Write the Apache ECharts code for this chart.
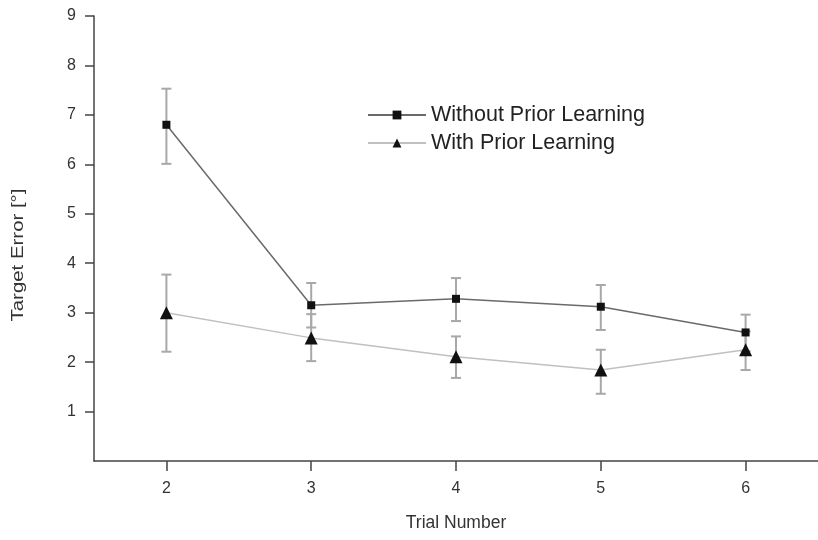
<!DOCTYPE html>
<html><head><meta charset="utf-8">
<script src="https://cdn.jsdelivr.net/npm/echarts@6/dist/echarts.min.js"></script>
<style>html,body{margin:0;padding:0;background:#fff}#c{width:818px;height:540px}</style>
</head><body><div id="c"></div>
<script>
const trials = ['2','3','4','5','6'];
const withoutMean = [6.80, 3.15, 3.28, 3.12, 2.60];
const withoutLow  = [6.01, 2.70, 2.83, 2.65, 2.22];
const withoutHigh = [7.53, 3.60, 3.70, 3.56, 2.96];
const withMean = [3.00, 2.49, 2.11, 1.84, 2.25];
const withLow  = [2.21, 2.02, 1.68, 1.36, 1.84];
const withHigh = [3.77, 2.97, 2.52, 2.25, 2.62];
const yTicks = [1,2,3,4,5,6,7,8,9];

function errData(lo, hi){ return trials.map((t,i)=>[i, lo[i], hi[i]]); }
function errRender(params, api){
  const x = api.value(0);
  const p1 = api.coord([x, api.value(1)]);
  const p2 = api.coord([x, api.value(2)]);
  const w = 5;
  const st = {stroke:'#a8a8a8', lineWidth:2};
  return {type:'group', children:[
    {type:'line', shape:{x1:p1[0],y1:p1[1],x2:p2[0],y2:p2[1]}, style:st},
    {type:'line', shape:{x1:p1[0]-w,y1:p1[1],x2:p1[0]+w,y2:p1[1]}, style:st},
    {type:'line', shape:{x1:p2[0]-w,y1:p2[1],x2:p2[0]+w,y2:p2[1]}, style:st}
  ]};
}
const chart = echarts.init(document.getElementById('c'));
const font = 'Liberation Sans, Arial, sans-serif';
chart.setOption({
  animation:false,
  backgroundColor:'#fff',
  textStyle:{fontFamily:font},
  grid:{left:94, right:0, top:16, bottom:79},
  legend:{
    orient:'vertical', left:362, top:99, itemWidth:58, itemHeight:11, itemGap:6,
    textStyle:{fontFamily:font, fontSize:21.5, color:'#222'},
    data:['Without Prior Learning','With Prior Learning']
  },
  graphic:[{
    type:'text', x:18, y:255, rotation:Math.PI/2, scaleX:1.2,
    style:{text:'Target Error [°]', font:'17px Liberation Sans, Arial, sans-serif', fill:'#333',
      align:'center', verticalAlign:'middle'}
  }],
  xAxis:{
    type:'category', data:trials, boundaryGap:true,
    name:'Trial Number', nameLocation:'middle', nameGap:53,
    nameTextStyle:{fontFamily:font, fontSize:17.5, color:'#333'},
    axisLine:{lineStyle:{color:'#444', width:1.5}},
    axisTick:{show:true, interval:0, alignWithLabel:true, length:10, lineStyle:{color:'#444', width:1.5}},
    axisLabel:{fontFamily:font, fontSize:16, color:'#333', margin:20, interval:0},
    splitLine:{show:false}
  },
  yAxis:{
    type:'value', min:0, max:9, interval:1,
    axisLine:{show:true, lineStyle:{color:'#444', width:1.5}},
    axisTick:{show:true, length:9, customValues:yTicks, lineStyle:{color:'#444', width:1.5}},
    axisLabel:{fontFamily:font, fontSize:16, color:'#333', margin:18, customValues:yTicks},
    splitLine:{show:false}
  },
  series:[
    {type:'custom', renderItem:errRender, data:errData(withoutLow, withoutHigh), z:1, silent:true},
    {type:'custom', renderItem:errRender, data:errData(withLow, withHigh), z:1, silent:true},
    {name:'With Prior Learning', type:'line', data:withMean, symbol:'triangle', symbolSize:13,
      itemStyle:{color:'#111'}, lineStyle:{color:'#c0c0c0', width:1.5}, z:3},
    {name:'Without Prior Learning', type:'line', data:withoutMean, symbol:'rect', symbolSize:8,
      itemStyle:{color:'#111'}, lineStyle:{color:'#6a6a6a', width:1.5}, z:4}
  ]
});
</script></body></html>
